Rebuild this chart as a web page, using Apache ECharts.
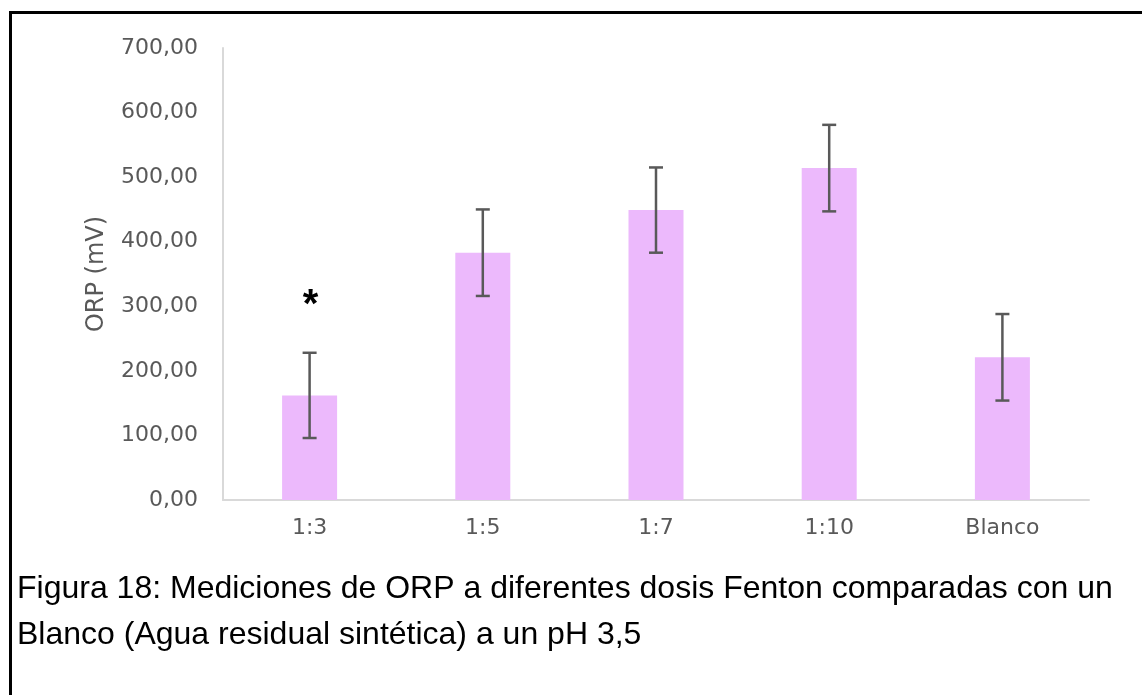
<!DOCTYPE html>
<html>
<head>
<meta charset="utf-8">
<script src="https://cdn.jsdelivr.net/npm/echarts@6/dist/echarts.min.js"></script>
<style>
  html, body { margin: 0; padding: 0; background: #fff; }
  #main { width: 1142px; height: 695px; }
</style>
</head>
<body>
<div id="main"></div>
<script>
  // datos
  var categories = ['1:3', '1:5', '1:7', '1:10', 'Blanco'];
  var orpValues = [162, 383, 449, 514, 221];
  var orpErrors = [66, 67, 66, 67, 67];
  var sigMarks = ['*', '', '', '', ''];
  var captionLines = [
    'Figura 18: Mediciones de ORP a diferentes dosis Fenton comparadas con un',
    'Blanco (Agua residual sintética) a un pH 3,5'
  ];

  var errData = categories.map(function (c, i) {
    return [i, orpValues[i], orpErrors[i]];
  });

  function renderError(params, api) {
    var i = api.value(0);
    var v = api.value(1);
    var e = api.value(2);
    var top = api.coord([i, v + e]);
    var bot = api.coord([i, v - e]);
    var half = 7;
    var st = { stroke: '#595959', lineWidth: 2.5 };
    var children = [
      { type: 'line', shape: { x1: top[0], y1: top[1], x2: bot[0], y2: bot[1] }, style: st },
      { type: 'line', shape: { x1: top[0] - half, y1: top[1], x2: top[0] + half, y2: top[1] }, style: st },
      { type: 'line', shape: { x1: bot[0] - half, y1: bot[1], x2: bot[0] + half, y2: bot[1] }, style: st }
    ];
    // asterisco de significancia
    if (sigMarks[i]) {
      children.push({
        type: 'text',
        x: top[0] + 1,
        y: top[1] - 47,
        style: {
          text: sigMarks[i],
          fill: '#000',
          font: 'bold 40px "Liberation Sans"',
          align: 'center',
          verticalAlign: 'middle'
        }
      });
    }
    return { type: 'group', children: children };
  }

  var myChart = echarts.init(document.getElementById('main'));
  var option = {
    backgroundColor: '#fff',
    animation: false,
    grid: { left: 223, right: 53, top: 48, bottom: 195 },
    xAxis: {
      type: 'category',
      data: categories,
      axisTick: { show: false },
      axisLine: { lineStyle: { color: '#d9d9d9', width: 2 } },
      axisLabel: {
        color: '#595959',
        fontFamily: 'DejaVu Sans',
        fontSize: 22,
        margin: 17
      }
    },
    yAxis: {
      type: 'value',
      min: 0,
      max: 700,
      interval: 100,
      name: 'ORP (mV)',
      nameLocation: 'middle',
      nameGap: 114,
      nameTextStyle: {
        color: '#595959',
        fontFamily: 'DejaVu Sans',
        fontSize: 24
      },
      axisLine: { show: true, lineStyle: { color: '#d9d9d9', width: 2 } },
      axisTick: { show: false },
      splitLine: { show: false },
      axisLabel: {
        color: '#595959',
        fontFamily: 'DejaVu Sans',
        fontSize: 22,
        margin: 25,
        formatter: function (v) { return v.toFixed(2).replace('.', ','); }
      }
    },
    series: [
      {
        type: 'bar',
        data: orpValues,
        barWidth: 55,
        itemStyle: { color: '#ecb9fc' }
      },
      {
        type: 'custom',
        renderItem: renderError,
        data: errData,
        z: 10
      }
    ],
    graphic: [
      {
        type: 'rect',
        shape: { x: 10.5, y: 12.5, width: 1300, height: 900 },
        style: { fill: 'none', stroke: '#000', lineWidth: 3 }
      },
      {
        type: 'text',
        x: 17,
        y: 589,
        style: { text: captionLines[0], fill: '#000', font: '32px "Liberation Sans"', verticalAlign: 'middle' }
      },
      {
        type: 'text',
        x: 17,
        y: 635,
        style: { text: captionLines[1], fill: '#000', font: '32px "Liberation Sans"', verticalAlign: 'middle' }
      }
    ]
  };
  myChart.setOption(option);
</script>
</body>
</html>
